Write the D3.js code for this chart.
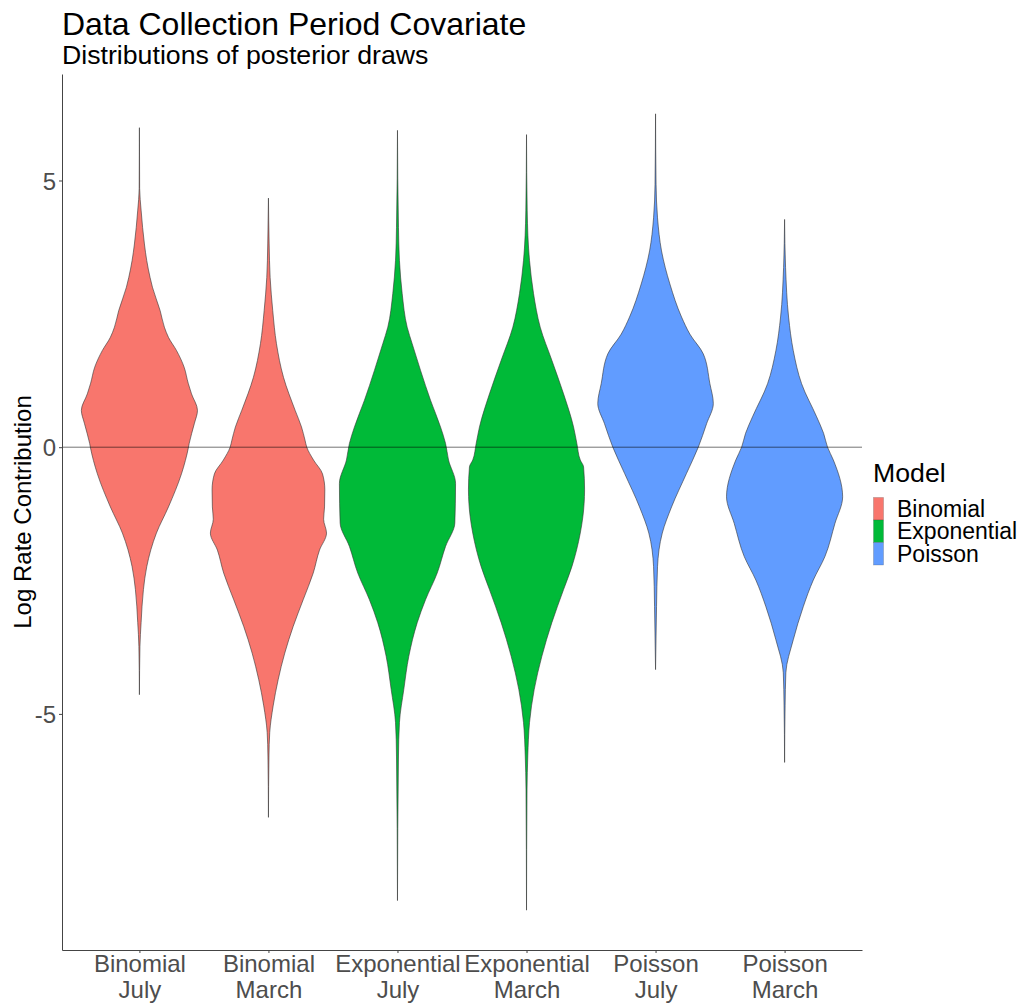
<!DOCTYPE html>
<html>
<head>
<meta charset="utf-8">
<script src="https://cdn.jsdelivr.net/npm/d3@7"></script>
<style>
  html, body { margin: 0; padding: 0; background: #fff; }
  svg { display: block; font-family: "Liberation Sans", Arial, sans-serif; }
</style>
</head>
<body>
<svg id="chart" width="1028" height="1005"></svg>
<script>
// Violin profiles: [log rate contribution, scaled density (1 = widest violin)]
const binomialJuly = [
  [5.99, 0], [4.85, 0.004], [4.43, 0.03], [3.81, 0.086], [3.5, 0.126], [3.18, 0.184],
  [3.0, 0.224], [2.56, 0.357], [2.25, 0.43], [2.06, 0.5], [1.81, 0.64], [1.5, 0.77],
  [1.2, 0.84], [1.0, 0.897], [0.69, 1.0], [0.45, 0.948], [0.07, 0.857], [0, 0.845],
  [-0.5, 0.724], [-1.12, 0.5], [-1.61, 0.293], [-2.24, 0.126], [-2.67, 0.069],
  [-3.29, 0.029], [-3.74, 0.009], [-4.64, 0]
];
const binomialMarch = [
  [4.67, 0], [3.81, 0.012], [3.18, 0.029], [2.56, 0.074], [1.94, 0.138], [1.31, 0.259],
  [0.69, 0.46], [0.38, 0.569], [0.13, 0.63], [0, 0.66], [-0.24, 0.776], [-0.5, 0.931],
  [-0.8, 0.971], [-1.12, 0.966], [-1.35, 0.95], [-1.61, 1.0], [-1.93, 0.879], [-2.36, 0.771],
  [-2.86, 0.598], [-3.36, 0.426], [-3.86, 0.281], [-4.36, 0.167], [-4.85, 0.081],
  [-5.35, 0.022], [-5.79, 0.009], [-6.94, 0]
];
const exponentialJuly = [
  [5.94, 0], [4.12, 0.017], [3.5, 0.034], [2.88, 0.081], [2.25, 0.167], [1.94, 0.253],
  [1.44, 0.397], [0.88, 0.569], [0.38, 0.741], [0.07, 0.828], [-0.24, 0.879],
  [-0.68, 1.0], [-1.42, 0.988], [-1.86, 0.828], [-2.36, 0.684], [-2.86, 0.483],
  [-3.29, 0.34], [-3.92, 0.195], [-4.54, 0.109], [-5.16, 0.034], [-5.79, 0.017], [-8.5, 0]
];
const exponentialMarch = [
  [5.86, 0], [4.43, 0.012], [3.5, 0.052], [2.88, 0.121], [2.25, 0.236], [1.63, 0.436],
  [1.0, 0.638], [0.38, 0.81], [0.07, 0.867], [-0.24, 0.926], [-0.37, 0.983], [-0.8, 1.0],
  [-1.3, 0.971], [-1.61, 0.926], [-2.24, 0.781], [-2.67, 0.638], [-3.29, 0.436],
  [-3.92, 0.264], [-4.54, 0.133], [-5.16, 0.052], [-5.79, 0.022], [-6.41, 0.009], [-8.68, 0]
];
const poissonJuly = [
  [6.25, 0], [4.93, 0.009], [4.3, 0.034], [3.68, 0.103], [3.06, 0.247], [2.44, 0.448],
  [2.12, 0.591], [1.75, 0.822], [1.19, 0.936], [0.82, 0.995], [0.44, 0.879], [0, 0.736],
  [-0.49, 0.534], [-1.12, 0.276], [-1.61, 0.116], [-2.24, 0.034], [-2.99, 0.017], [-4.17, 0]
];
const poissonMarch = [
  [4.27, 0], [3.37, 0.017], [2.44, 0.069], [1.81, 0.15], [1.19, 0.293], [0.57, 0.552],
  [0.26, 0.672], [0, 0.74], [-0.24, 0.84], [-0.93, 1.0], [-1.43, 0.867], [-2.05, 0.695],
  [-2.49, 0.495], [-2.99, 0.322], [-3.61, 0.15], [-4.23, 0.022], [-4.85, 0.009], [-5.91, 0]
];

const categories = ["Binomial July", "Binomial March", "Exponential July",
                    "Exponential March", "Poisson July", "Poisson March"];
const categoryModels = ["Binomial", "Binomial", "Exponential", "Exponential", "Poisson", "Poisson"];
const categoryProfiles = [binomialJuly, binomialMarch, exponentialJuly,
                          exponentialMarch, poissonJuly, poissonMarch];
const tickLabels = [["Binomial", "July"], ["Binomial", "March"], ["Exponential", "July"],
                    ["Exponential", "March"], ["Poisson", "July"], ["Poisson", "March"]];
const models = ["Binomial", "Exponential", "Poisson"];
const modelColors = ["#F8766D", "#00BA38", "#619CFF"];
const yTicks = [-5, 0, 5];

const svg = d3.select("#chart");
const panel = { left: 62, right: 862, top: 74, bottom: 950 };

// y scale with ggplot-style 5% expansion of the data range
const allValues = categoryProfiles.flat().map(d => d[0]);
const yMin = d3.min(allValues), yMax = d3.max(allValues);
const pad = (yMax - yMin) * 0.05;
const y = d3.scaleLinear().domain([yMin - pad, yMax + pad]).range([panel.bottom, panel.top]);

const x = d3.scalePoint().domain(categories).range([panel.left, panel.right]).padding(0.6);
const halfWidth = 0.45 * x.step();

const color = d3.scaleOrdinal().domain(models).range(modelColors);

// violins
const area = d3.area()
  .curve(d3.curveMonotoneY)
  .y(d => y(d[0]));

svg.append("g").selectAll("path")
  .data(categories)
  .join("path")
  .attr("d", (c, i) => {
    const cx = x(c);
    return area.x0(d => cx - d[1] * halfWidth).x1(d => cx + d[1] * halfWidth)(categoryProfiles[i]);
  })
  .attr("fill", (c, i) => color(categoryModels[i]))
  .attr("stroke", "#333")
  .attr("stroke-width", 0.6);

// reference line at zero
svg.append("line")
  .attr("x1", panel.left).attr("x2", panel.right)
  .attr("y1", y(0)).attr("y2", y(0))
  .attr("stroke", "#000").attr("stroke-opacity", 0.55).attr("stroke-width", 1);

// y axis
const yAxis = svg.append("g")
  .attr("transform", `translate(${panel.left},0)`)
  .call(d3.axisLeft(y).tickValues(yTicks).tickSize(3).tickSizeOuter(0).tickPadding(3)
    .tickFormat(d3.format("d")));
yAxis.select(".domain").attr("stroke", "#444");
yAxis.selectAll(".tick line").attr("stroke", "#444");
yAxis.selectAll(".tick text")
  .attr("font-family", "Liberation Sans, Arial, sans-serif")
  .attr("font-size", 24).attr("fill", "#4D4D4D").attr("dy", "0.36em")
  .text(d => d < 0 ? "-" + Math.abs(d) : d);

// x axis with two-line category labels
const xAxis = svg.append("g")
  .attr("transform", `translate(0,${panel.bottom})`)
  .call(d3.axisBottom(x).tickSize(3).tickSizeOuter(0));
xAxis.select(".domain").attr("stroke", "#444");
xAxis.selectAll(".tick line").attr("stroke", "#444");
xAxis.selectAll(".tick text").each(function(c, i) {
  const t = d3.select(this).text(null).attr("dy", null).attr("y", 0)
    .attr("font-family", "Liberation Sans, Arial, sans-serif")
    .attr("font-size", 24).attr("fill", "#4D4D4D");
  tickLabels[i].forEach((line, j) => {
    t.append("tspan").attr("x", 0).attr("y", 22 + j * 26).text(line);
  });
});

// axis title
svg.append("text")
  .attr("transform", `translate(31,${(panel.top + panel.bottom) / 2}) rotate(-90)`)
  .attr("text-anchor", "middle")
  .attr("font-size", 24).attr("fill", "#000")
  .text("Log Rate Contribution");

// title and subtitle
svg.append("text").attr("x", 62).attr("y", 35)
  .attr("font-size", 32).attr("fill", "#000")
  .text("Data Collection Period Covariate");
svg.append("text").attr("x", 62).attr("y", 64)
  .attr("font-size", 26.7).attr("fill", "#000")
  .text("Distributions of posterior draws");

// legend
const legend = svg.append("g").attr("transform", "translate(873,0)");
legend.append("text").attr("x", 0).attr("y", 482)
  .attr("font-size", 26.7).attr("fill", "#000").text("Model");
const keyH = 22.5, keyTop = 497.5;
models.forEach((m, i) => {
  legend.append("rect")
    .attr("x", 0.5).attr("y", keyTop + i * keyH)
    .attr("width", 10).attr("height", keyH)
    .attr("fill", color(m))
    .attr("stroke", "#333").attr("stroke-opacity", 0.35).attr("stroke-width", 0.6);
  legend.append("text")
    .attr("x", 24).attr("y", keyTop + i * keyH + keyH / 2 + 8)
    .attr("font-size", 23).attr("fill", "#000").text(m);
});
</script>
</body>
</html>
